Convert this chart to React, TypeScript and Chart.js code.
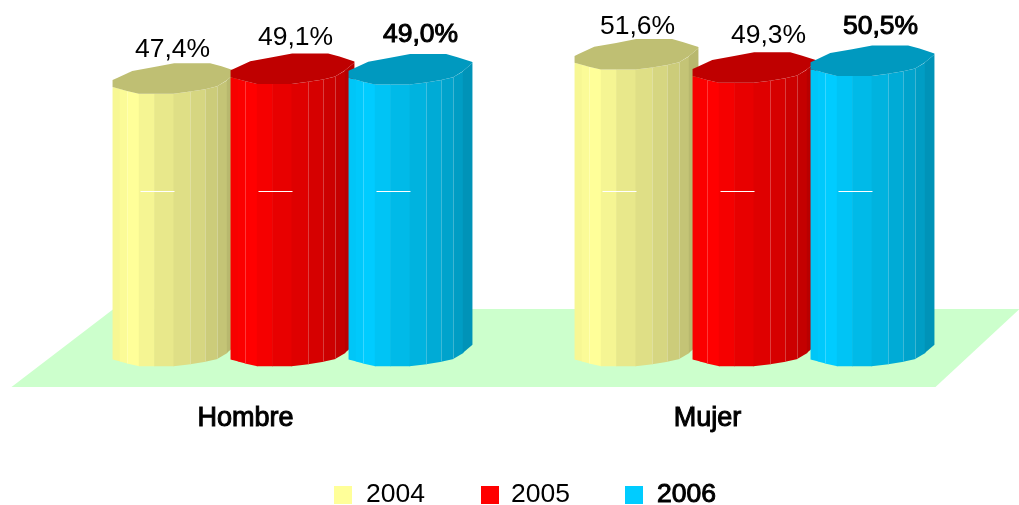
import React, { useEffect, useRef } from "react";
import { Chart, registerables } from "chart.js";

Chart.register(...registerables);

const categories = ["Hombre", "Mujer"];
const seriesNames = ["2004", "2005", "2006"];
const values2004 = [47.4, 51.6];
const values2005 = [49.1, 49.3];
const values2006 = [49.0, 50.5];
const seriesColors = ["#FFFF99", "#FF0000", "#00CCFF"];

const labelDx = [[-2, 3, 10], [1, 14, 8]];
const labelDy = [[-29, -31, -35], [-28, -32, -34]];
const legendSwatchX = [334, 481, 625];
const legendTextX = [366, 511, 657];
const boldSeries = 2;

const FONT = '26.5px "Liberation Sans", Arial, sans-serif';

// Shape of the faceted cylinder, as fractions of its box.
const lowerU = [0, 0.059, 0.116, 0.212, 0.336, 0.492, 0.626, 0.747, 0.844, 0.922, 1];
const lowerV = [0.78, 0.844, 0.908, 1, 1, 1, 0.931, 0.851, 0.759, 0.563, 0.299];
const upperU = [1, 0.879, 0.788, 0.497, 0.336, 0.159, 0.032, 0];
const upperV = [0.264, 0.103, 0, 0, 0.126, 0.253, 0.494, 0.552];
const facetShade = [0.97, 0.985, 1, 0.96, 0.91, 0.875, 0.84, 0.8, 0.77, 0.72];
const litEdges = [2, 6, 7, 8];
const capShade = 0.75;
const capHeight = 30.5;
const widthScale = 1.05;
const markAboveBase = 160;

function shade(hex: string, f: number) {
  const n = parseInt(hex.slice(1), 16);
  const c = [(n >> 16) & 255, (n >> 8) & 255, n & 255].map((v) => Math.round(v * f));
  return `rgb(${c[0]},${c[1]},${c[2]})`;
}

function drawCylinder(ctx: CanvasRenderingContext2D, el: any, color: string) {
  const w = el.width * widthScale;
  const left = el.x - w / 2;
  const X = (u: number) => left + u * w;
  const Y = (v: number) => (v - 0.5) * capHeight;
  for (let i = 0; i < facetShade.length; i++) {
    const extra = i < facetShade.length - 1 ? 0.6 : 0;
    ctx.beginPath();
    ctx.moveTo(X(lowerU[i]), el.y + Y(lowerV[i]));
    ctx.lineTo(X(lowerU[i + 1]) + extra, el.y + Y(lowerV[i + 1]));
    ctx.lineTo(X(lowerU[i + 1]) + extra, el.base + Y(lowerV[i + 1]));
    ctx.lineTo(X(lowerU[i]), el.base + Y(lowerV[i]));
    ctx.closePath();
    ctx.fillStyle = shade(color, facetShade[i]);
    ctx.fill();
  }
  ctx.strokeStyle = "rgba(255,255,255,0.22)";
  ctx.lineWidth = 1;
  for (const i of litEdges) {
    const x = Math.round(X(lowerU[i])) + 0.5;
    ctx.beginPath();
    ctx.moveTo(x, el.y + Y(lowerV[i]));
    ctx.lineTo(x, el.base + Y(lowerV[i]));
    ctx.stroke();
  }
  ctx.beginPath();
  lowerU.forEach((u, i) => {
    if (i === 0) ctx.moveTo(X(u), el.y + Y(lowerV[i]));
    else ctx.lineTo(X(u), el.y + Y(lowerV[i]));
  });
  upperU.forEach((u, i) => ctx.lineTo(X(u), el.y + Y(upperV[i])));
  ctx.closePath();
  ctx.fillStyle = shade(color, capShade);
  ctx.fill();
  // short white tick crossing the body
  const markY = Math.round(el.base - markAboveBase) + 0.5;
  ctx.strokeStyle = "#FFFFFF";
  ctx.beginPath();
  ctx.moveTo(el.x - 34, markY);
  ctx.lineTo(el.x, markY);
  ctx.stroke();
}

function boldText(ctx: CanvasRenderingContext2D, text: string, x: number, y: number, bold: boolean) {
  ctx.fillText(text, x, y);
  if (bold) {
    ctx.lineWidth = 1;
    ctx.strokeStyle = "#000";
    ctx.strokeText(text, x, y);
  }
}

const cylinderPlugin = {
  id: "cylinders",
  beforeDatasetsDraw(chart: any) {
    const { ctx, chartArea: a } = chart;
    ctx.save();
    ctx.fillStyle = "#CCFFCC";
    ctx.beginPath();
    ctx.moveTo(a.left - 50, a.bottom + 36);
    ctx.lineTo(a.right - 50, a.bottom + 36);
    ctx.lineTo(a.right + 34, a.bottom - 42);
    ctx.lineTo(a.left + 52, a.bottom - 42);
    ctx.closePath();
    ctx.fill();
    chart.data.datasets.forEach((_: any, s: number) => {
      chart.getDatasetMeta(s).data.forEach((el: any) => {
        drawCylinder(ctx, el, seriesColors[s]);
      });
    });
    ctx.restore();
  },
  beforeDatasetDraw() {
    return false;
  },
  afterDatasetsDraw(chart: any) {
    const { ctx } = chart;
    ctx.save();
    ctx.font = FONT;
    ctx.fillStyle = "#000";
    ctx.textAlign = "center";
    ctx.textBaseline = "middle";
    chart.data.datasets.forEach((ds: any, s: number) => {
      chart.getDatasetMeta(s).data.forEach((el: any, c: number) => {
        const txt = ds.data[c].toFixed(1).replace(".", ",") + "%";
        boldText(ctx, txt, el.x + labelDx[c][s], el.y + labelDy[c][s], s === boldSeries);
      });
    });
    ctx.textAlign = "left";
    seriesNames.forEach((name, s) => {
      ctx.fillStyle = seriesColors[s];
      ctx.fillRect(legendSwatchX[s], 486, 18, 18);
      ctx.fillStyle = "#000";
      boldText(ctx, name, legendTextX[s], 495, s === boldSeries);
    });
    ctx.restore();
  },
};

export default function App() {
  const ref = useRef<HTMLCanvasElement>(null);
  useEffect(() => {
    const chart = new Chart(ref.current as HTMLCanvasElement, {
      type: "bar",
      data: {
        labels: categories,
        datasets: [values2004, values2005, values2006].map((data, i) => ({
          label: seriesNames[i],
          data,
          backgroundColor: seriesColors[i],
          categoryPercentage: 0.7662,
          barPercentage: 1,
        })),
      },
      options: {
        animation: false,
        responsive: false,
        layout: { padding: { left: 61.5, right: 33.5, top: 6, bottom: 54 } },
        plugins: { legend: { display: false }, tooltip: { enabled: false } },
        scales: {
          x: {
            grid: { display: false },
            border: { display: false },
            afterFit: (s: any) => {
              s.height = 100;
            },
            ticks: {
              color: "#000",
              font: { family: '"Liberation Sans", Arial, sans-serif', size: 27 },
              textStrokeColor: "#000",
              textStrokeWidth: 1,
              padding: 43,
              labelOffset: -47,
              maxRotation: 0,
            },
          },
          y: { display: false, min: 0, max: 60 },
        },
      } as any,
      plugins: [cylinderPlugin],
    });
    return () => chart.destroy();
  }, []);
  return (
    <div style={{ position: "fixed", left: 0, top: 0, width: 1019, height: 505, background: "#fff" }}>
      <canvas ref={ref} width={1019} height={505} style={{ display: "block" }} />
    </div>
  );
}
